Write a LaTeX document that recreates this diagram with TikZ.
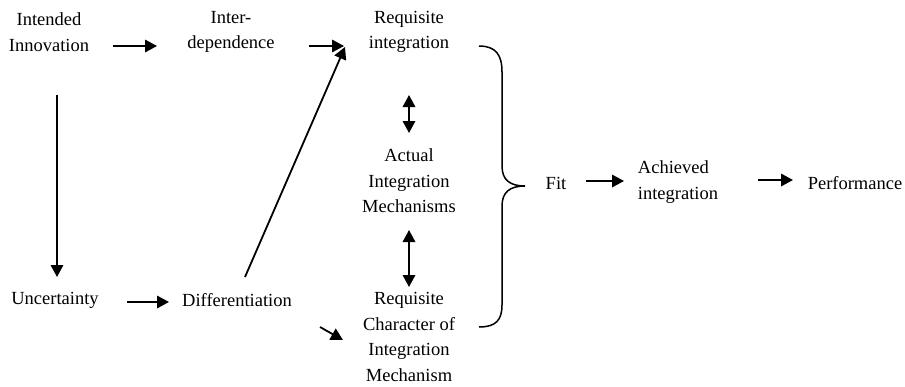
\documentclass[tikz,border=0pt]{standalone}
\usepackage{fontspec}
\setmainfont{Liberation Serif}
\usetikzlibrary{arrows.meta}
\begin{document}
\begin{tikzpicture}[x=1pt,y=1pt,
  lbl/.style={inner sep=0pt,align=center,font=\fontsize{18.5}{25.5}\selectfont},
  arr/.style={line width=1.8pt,-{Triangle[length=12pt,width=12.5pt]}},
  darr/.style={line width=1.8pt,{Triangle[length=12pt,width=12.5pt]}-{Triangle[length=12pt,width=12.5pt]}},
  brace/.style={line width=1.5pt}]
\useasboundingbox (0,0) rectangle (905,-386);
% nodes
\node[lbl] (ii) at (49,-32) {Intended\\Innovation};
\node[lbl] (inter) at (231,-32) {Inter-\\dependence};
\node[lbl] (ri) at (409,-32) {Requisite\\integration};
\node[lbl] (aim) at (409,-181) {Actual\\Integration\\Mechanisms};
\node[lbl] (unc) at (55,-300) {Uncertainty};
\node[lbl] (diff) at (237,-300) {Differentiation};
\node[lbl] (rci) at (409,-337) {Requisite\\Character of\\Integration\\Mechanism};
\node[lbl] (fit) at (556,-183) {Fit};
\node[lbl,align=left] (ach) at (678,-182) {Achieved\\integration};
\node[lbl] (perf) at (855,-183) {Performance};
% connector end points
\coordinate (a1s) at (113,-46); \coordinate (a1e) at (157,-46);
\coordinate (a2s) at (309,-46); \coordinate (a2e) at (344,-46);
\coordinate (a3s) at (245,-277); \coordinate (a3e) at (345,-47);
\coordinate (a4s) at (57,-95); \coordinate (a4e) at (57,-277);
\coordinate (a5s) at (127,-302); \coordinate (a5e) at (169,-302);
\coordinate (a6s) at (320,-327); \coordinate (a6e) at (343,-340);
\coordinate (d1s) at (409,-95); \coordinate (d1e) at (409,-133);
\coordinate (d2s) at (409,-230); \coordinate (d2e) at (409,-287);
\coordinate (a7s) at (586,-181); \coordinate (a7e) at (624,-181);
\coordinate (a8s) at (758,-180); \coordinate (a8e) at (793,-180);
\coordinate (bt) at (479,-46); \coordinate (bb) at (479,-327); \coordinate (btip) at (525,-186);
% connectors
\draw[arr] (a1s) -- (a1e);
\draw[arr] (a2s) -- (a2e);
\draw[arr] (a3s) -- (a3e);
\draw[arr] (a4s) -- (a4e);
\draw[arr] (a5s) -- (a5e);
\draw[arr] (a6s) -- (a6e);
\draw[darr] (d1s) -- (d1e);
\draw[darr] (d2s) -- (d2e);
\draw[arr] (a7s) -- (a7e);
\draw[arr] (a8s) -- (a8e);
% brace
\draw[brace] (bt) .. controls (496,-46) and (502,-55) .. (502,-72) -- (502,-166)
  .. controls (502,-180) and (510,-186) .. (btip)
  .. controls (510,-186) and (502,-192) .. (502,-206) -- (502,-305)
  .. controls (502,-320) and (496,-327) .. (bb);
\end{tikzpicture}
\end{document}
